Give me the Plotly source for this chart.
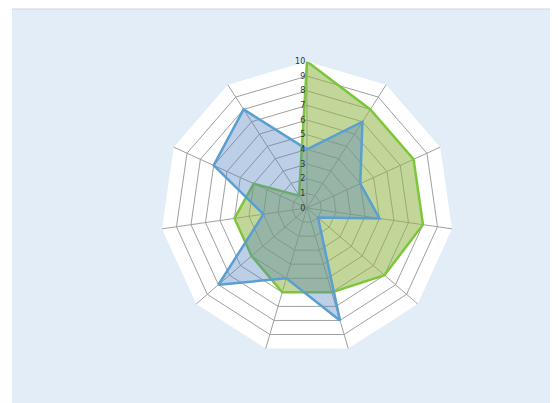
import plotly.graph_objects as go

categories = ["A", "B", "C", "D", "E", "F", "G", "H", "I", "J", "K"]
series_green = [10, 8, 8, 8, 7, 6, 6, 5, 5, 4, 1]
series_blue = [4, 7, 4, 5, 1, 8, 5, 8, 3, 7, 8]
radial_ticks = list(range(0, 11))

def closed(v):
    return v + v[:1]

fig = go.Figure()
fig.add_trace(go.Scatterpolar(
    r=closed(series_green), theta=closed(categories),
    mode="lines", fill="toself",
    line=dict(color="#7DC63C", width=2.5),
    fillcolor="rgba(146,180,70,0.55)",
    name="Series 1", hoverinfo="skip"))
fig.add_trace(go.Scatterpolar(
    r=closed(series_blue), theta=closed(categories),
    mode="lines", fill="toself",
    line=dict(color="#5A9FD0", width=2.5),
    fillcolor="rgba(79,129,189,0.38)",
    name="Series 2", hoverinfo="skip"))

fig.update_layout(
    width=558, height=403,
    margin=dict(l=4, r=0, t=1, b=0),
    paper_bgcolor="white",
    plot_bgcolor="rgba(0,0,0,0)",
    showlegend=False,
    shapes=[dict(type="rect", xref="paper", yref="paper", x0=0, x1=1, y0=0, y1=1,
                 fillcolor="#E2EDF7", line=dict(width=0), layer="below"),
            dict(type="line", xref="paper", yref="paper", x0=0, x1=1, y0=1, y1=1,
                 line=dict(color="#D0D5DA", width=1), layer="below")],
    polar=dict(
        domain=dict(x=[0.2680, 0.7969], y=[0.1393, 0.8707]),
        bgcolor="white",
        gridshape="linear",
        angularaxis=dict(rotation=90, direction="clockwise",
                         showticklabels=False, ticks="",
                         gridcolor="#A0A0A0", gridwidth=1,
                         showline=False),
        radialaxis=dict(range=[0, 10], tickvals=radial_ticks,
                        ticktext=[str(t) for t in radial_ticks],
                        angle=90, tickangle=90, side="counterclockwise",
                        showline=False, ticks="",
                        gridcolor="#A0A0A0", gridwidth=1,
                        tickfont=dict(size=8, color="#333333", family="DejaVu Sans")),
    ),
)

fig.write_html("out.html")
